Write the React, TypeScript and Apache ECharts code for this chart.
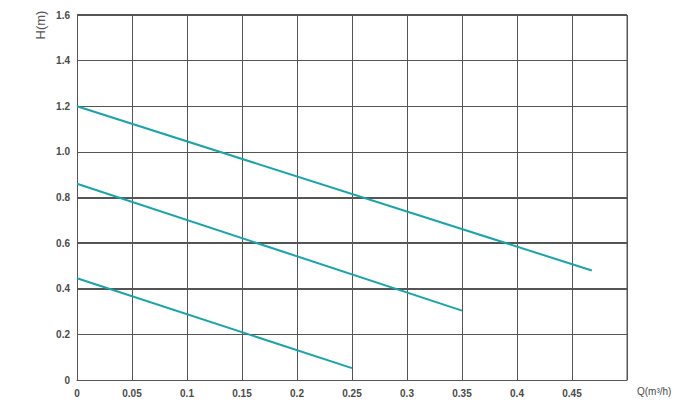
import React, { useEffect, useRef } from "react";
import * as echarts from "echarts";

const curveHigh: [number, number][] = [[0, 1.2], [0.468, 0.48]];
const curveMid: [number, number][] = [[0, 0.86], [0.35, 0.304]];
const curveLow: [number, number][] = [[0, 0.446], [0.25, 0.052]];
const heavyLines = [0.4, 0.6, 0.8, 1.6];
const xTicks = [0, 0.05, 0.1, 0.15, 0.2, 0.25, 0.3, 0.35, 0.4, 0.45, 0.5];

const LINE = "#18a4a8";
const GRIDC = "#555555";

export default function App() {
  const ref = useRef<HTMLDivElement>(null);
  useEffect(() => {
    if (!ref.current) return;
    const chart = echarts.init(ref.current, undefined, { renderer: "svg" });
    const lbl = { color: "#4a4a4a", fontSize: 10, fontWeight: "bold" as const, fontFamily: "Liberation Sans, Arial, sans-serif" };
    chart.setOption({
      animation: false,
      backgroundColor: "#ffffff",
      grid: { left: 77, top: 15, width: 550, height: 365, containLabel: false },
      xAxis: {
        type: "value",
        min: 0,
        max: 0.5,
        interval: 0.05,
        axisLine: { show: true, lineStyle: { color: GRIDC, width: 1 } },
        axisTick: { show: false },
        splitLine: { show: true, lineStyle: { color: GRIDC, width: 1 } },
        axisLabel: {
          ...lbl,
          margin: 8,
          formatter: (v: number) => {
            const t = xTicks.find((x) => Math.abs(x - v) < 1e-9);
            if (t === undefined || Math.abs(v - 0.5) < 1e-9) return "";
            return String(Number(v.toFixed(2)));
          },
        },
        name: "Q(m³/h)",
        nameLocation: "end",
        nameGap: 10,
        nameTextStyle: { color: "#4a4a4a", fontSize: 10, fontFamily: "Liberation Sans, Arial, sans-serif", verticalAlign: "top", padding: [6, 0, 0, 0] },
      },
      yAxis: {
        type: "value",
        min: 0,
        max: 1.6,
        interval: 0.2,
        axisLine: { show: true, lineStyle: { color: GRIDC, width: 1 } },
        axisTick: { show: false },
        splitLine: { show: true, lineStyle: { color: GRIDC, width: 1 } },
        axisLabel: {
          ...lbl,
          margin: 7,
          formatter: (v: number) => (v === 0 ? "0" : v.toFixed(1)),
        },
      },
      graphic: [
        {
          type: "line",
          shape: { x1: 627, y1: 15, x2: 627, y2: 380 },
          style: { stroke: GRIDC, lineWidth: 1 },
        },
        {
          type: "text",
          x: 40,
          y: 25,
          rotation: Math.PI / 2,
          style: {
            text: "H(m)",
            fill: "#555555",
            fontSize: 13,
            fontFamily: "Liberation Sans, Arial, sans-serif",
            align: "center",
            verticalAlign: "middle",
          },
        },
      ],
      series: [
        {
          type: "line",
          data: curveHigh,
          symbol: "none",
          lineStyle: { color: LINE, width: 2 },
          markLine: {
            silent: true,
            symbol: "none",
            label: { show: false },
            lineStyle: { color: GRIDC, width: 2, type: "solid" },
            data: heavyLines.map((y) => ({ yAxis: y })),
            z: 1,
          },
          z: 3,
        },
        { type: "line", data: curveMid, symbol: "none", lineStyle: { color: LINE, width: 2 }, z: 3 },
        { type: "line", data: curveLow, symbol: "none", lineStyle: { color: LINE, width: 2 }, z: 3 },
      ],
    });
    return () => chart.dispose();
  }, []);
  return <div ref={ref} style={{ position: "fixed", left: 0, top: 0, width: 686, height: 410 }} />;
}
